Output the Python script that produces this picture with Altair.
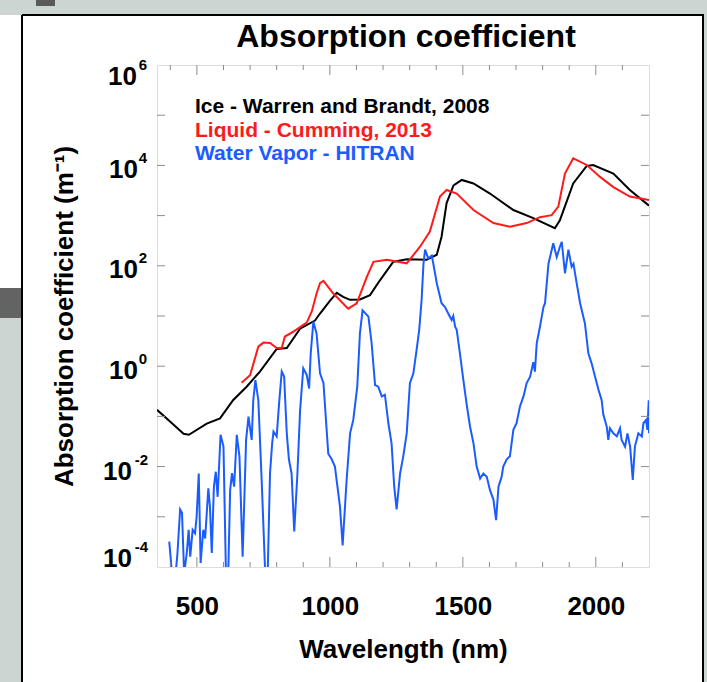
import altair as alt
import pandas as pd

FONT = "Liberation Sans"

# --- absorption coefficients (m^-1) versus wavelength (nm) ---
ice_nm = [350, 400, 450, 470, 537, 587, 636, 687, 737, 800, 838, 888, 944, 963,
          1000, 1026, 1050, 1076, 1113, 1151, 1189, 1238, 1289, 1364, 1402, 1420,
          1439, 1465, 1496, 1540, 1602, 1690, 1765, 1846, 1865, 1915, 1966, 1990,
          2066, 2128, 2200]
ice_abs = [0.135, 0.078, 0.045, 0.043, 0.072, 0.091, 0.21, 0.39, 0.78, 2.2, 2.3,
           5.6, 8.1, 11.2, 20, 29, 24, 21, 21.4, 26, 52, 120, 135, 132, 166, 380,
           1780, 4000, 5130, 4370, 2750, 1290, 890, 560, 810, 4370, 9770, 10200,
           6900, 3240, 1580]

liq_nm = [668, 700, 731, 750, 775, 800, 819, 831, 863, 913, 932, 950, 963, 976,
          1013, 1069, 1101, 1139, 1164, 1214, 1289, 1339, 1376, 1414, 1439, 1477,
          1540, 1615, 1677, 1740, 1790, 1834, 1859, 1884, 1915, 1966, 2016, 2066,
          2128, 2200]
liq_abs = [0.47, 0.66, 2.45, 2.95, 2.9, 2.3, 2.3, 3.9, 4.9, 7.4, 12.3, 28, 45, 50,
           28, 14, 17.8, 60, 120, 132, 112, 240, 480, 2400, 3240, 2750, 1290, 710,
           600, 710, 930, 1020, 1510, 6900, 13800, 10200, 5900, 3700, 2400, 2040]

vap_nm = [396, 401, 408, 418, 427, 437, 444, 452, 462, 469, 475, 484, 493, 499,
          507, 514, 524, 531, 543, 549, 556, 564, 571, 578, 589, 600, 610, 617,
          625, 632, 640, 650, 660, 672, 685, 694, 700, 706, 712, 720, 731, 744,
          756, 765, 775, 783, 788, 800, 810, 819, 828, 838, 846, 856, 866, 878,
          888, 900, 913, 922, 928, 938, 950, 963, 976, 994, 1007, 1019, 1038,
          1048, 1063, 1076, 1088, 1103, 1113, 1123, 1145, 1157, 1170, 1182, 1195,
          1207, 1220, 1232, 1242, 1251, 1264, 1276, 1289, 1301, 1314, 1326, 1336,
          1345, 1352, 1358, 1370, 1383, 1389, 1402, 1420, 1433, 1446, 1458, 1464,
          1471, 1477, 1489, 1502, 1514, 1527, 1540, 1552, 1565, 1577, 1590, 1602,
          1615, 1625, 1634, 1646, 1652, 1665, 1677, 1690, 1702, 1715, 1728, 1740,
          1753, 1765, 1771, 1778, 1790, 1803, 1809, 1822, 1840, 1853, 1865, 1872,
          1884, 1897, 1909, 1916, 1928, 1941, 1953, 1959, 1972, 1985, 1997, 2010,
          2022, 2028, 2041, 2047, 2053, 2066, 2079, 2091, 2097, 2110, 2119, 2129,
          2139, 2147, 2160, 2173, 2179, 2189, 2194, 2199, 2200]
vap_abs = [3.2e-4, 1.6e-4, 5.5e-5, 5.5e-5, 1.9e-4, 1.4e-3, 1.2e-3, 7.4e-5, 1.9e-4,
           5.5e-4, 1.6e-4, 5.5e-4, 4.7e-4, 1.0e-3, 7.3e-3, 1.2e-4, 5.5e-4, 3.7e-4,
           3.7e-3, 1.6e-3, 1.9e-4, 4.0e-3, 7.9e-3, 2.5e-3, 4.3e-2, 2.5e-2, 4.7e-5,
           4.7e-5, 3.4e-3, 7.4e-3, 4.0e-3, 4.3e-2, 1.6e-2, 1.6e-4, 3.4e-2, 9.9e-2,
           5.8e-2, 3.4e-2, 0.21, 0.53, 0.21, 4.7e-3, 1.0e-4, 4.1e-5, 7.4e-3, 2.9e-2,
           5.0e-2, 4.0e-2, 0.21, 0.78, 0.62, 4.6e-2, 1.4e-2, 7.3e-3, 5.1e-4, 7.3e-3,
           0.13, 0.91, 0.67, 0.36, 1.8, 7.7, 4.5, 0.72, 0.46, 1.8e-2, 1.4e-2, 1.0e-2,
           1.6e-3, 2.7e-4, 5.4e-3, 4.6e-2, 8.5e-2, 0.39, 4.5, 13, 9.7, 2.9, 0.42,
           0.39, 0.25, 0.27, 7.3e-2, 2.9e-2, 4.0e-3, 1.4e-3, 7.3e-3, 1.6e-2, 4.6e-2,
           0.46, 0.72, 2.1, 5.3, 21, 110, 210, 140, 160, 110, 45, 18, 15, 11, 8.3,
           10, 6.1, 5.3, 1.8, 0.53, 0.18, 6.3e-2, 2.9e-2, 1.0e-2, 5.8e-3, 7.3e-3,
           6.3e-3, 3.4e-3, 2.2e-3, 8.6e-4, 4.0e-3, 6.3e-3, 1.0e-2, 1.4e-2, 1.6e-2,
           5.4e-2, 7.3e-2, 0.16, 0.25, 0.46, 0.62, 1.2, 0.78, 2.9, 6.1, 15, 18, 110,
           280, 150, 240, 300, 71, 210, 96, 110, 45, 18, 9.7, 7.1, 1.8, 1.1, 0.62,
           0.34, 0.21, 0.11, 6.3e-2, 3.4e-2, 5.8e-2, 4.6e-2, 4.0e-2, 5.8e-2, 3.4e-2,
           2.5e-2, 4.6e-2, 2.5e-2, 5.4e-3, 2.5e-2, 4.6e-2, 4.0e-2, 7.3e-2, 8.5e-2,
           5.4e-2, 0.21, 4.6e-2]

series_names = ["Ice - Warren and Brandt, 2008",
                "Liquid - Cumming, 2013",
                "Water Vapor - HITRAN"]
series_colors = ["#000000", "#ff1a1a", "#1a5cff"]
chart_title = "Absorption coefficient"

# axis ticks
x_label_values = [500, 1000, 1500, 2000]
x_minor = [v for v in range(400, 2200, 100) if v % 500 != 0]
y_decades = [10.0 ** e for e in range(-3, 6)]

W, H = 492, 502
FRAME = "#8c8c8c"

xscale = alt.Scale(domain=[350, 2200], nice=False, zero=False)
yscale = alt.Scale(type="log", domain=[1e-4, 1e6], nice=False)

x_enc = alt.X("nm:Q", scale=xscale,
              axis=alt.Axis(values=x_label_values, format="d", title="Wavelength (nm)",
                            labelFont=FONT, labelFontSize=26, labelFontWeight="bold",
                            labelColor="black", labelPadding=26, ticks=False,
                            tickSize=0, domain=False, grid=False,
                            titleFont=FONT, titleFontSize=26, titleFontWeight="bold",
                            titleColor="black", titlePadding=17))
y_enc = alt.Y("abs:Q", scale=yscale,
              axis=alt.Axis(labels=False, ticks=False, tickSize=0, domain=False,
                            grid=False, title="Absorption coefficient (m\u207b\u00b9)",
                            titleFont=FONT, titleFontSize=26, titleFontWeight="bold",
                            titleColor="black", titlePadding=80))


def curve(nm, vals, color, width=2.0):
    df = pd.DataFrame({"nm": nm, "abs": vals})
    return alt.Chart(df).mark_line(color=color, strokeWidth=width, clip=True).encode(
        x=x_enc, y=y_enc)


one = pd.DataFrame({"k": [0]})


def box(x1, x2, y1, y2, fill):
    return alt.Chart(one).mark_rect(color=fill, clip=False).encode(
        x=alt.value(x1), x2=alt.value(x2), y=alt.value(y1), y2=alt.value(y2))


def line(x1, x2, y1, y2, color="black", width=2):
    return alt.Chart(one).mark_rule(color=color, strokeWidth=width, clip=False).encode(
        x=alt.value(x1), x2=alt.value(x2), y=alt.value(y1), y2=alt.value(y2))


# surrounding slide panel
GRAY = "#cdd5d2"
decor = [
    box(-157, 550, -65, -50, GRAY),
    box(-121, -102, -65, -59, "#5a5a5a"),
    box(-157, -135, 253, 617, GRAY),
    box(-157, -135, 223, 253, "#636363"),
    box(547, 550, -65, 617, GRAY),
    line(-135, 547, -50, -50),
    line(-135, -135, -50, 617),
    line(546, 546, -50, 617),
]


# inward tick marks on all four sides
def xticks(vals, length):
    df = pd.DataFrame({"nm": vals})
    base = alt.Chart(df).mark_rule(color=FRAME, strokeWidth=1)
    return [
        base.encode(x=alt.X("nm:Q", scale=xscale), y=alt.value(H), y2=alt.value(H - length)),
        base.encode(x=alt.X("nm:Q", scale=xscale), y=alt.value(0), y2=alt.value(length)),
    ]


def yticks(vals, length):
    df = pd.DataFrame({"abs": vals})
    base = alt.Chart(df).mark_rule(color=FRAME, strokeWidth=1)
    return [
        base.encode(y=alt.Y("abs:Q", scale=yscale), x=alt.value(0), x2=alt.value(length)),
        base.encode(y=alt.Y("abs:Q", scale=yscale), x=alt.value(W), x2=alt.value(W - length)),
    ]


ticks = xticks(x_label_values, 10) + xticks(x_minor, 5) + yticks(y_decades, 8)


# power-of-ten labels on the y axis: "10" with a raised exponent
def ylabels(exps, x_base, x_sup, dy):
    df = pd.DataFrame({"abs": [10.0 ** e for e in exps], "e": [str(e) for e in exps]})
    base = alt.Chart(df).mark_text(align="right", baseline="alphabetic", dy=dy,
                                   font=FONT, fontSize=26, fontWeight="bold",
                                   color="black").encode(
        x=alt.value(x_base), y=alt.Y("abs:Q", scale=yscale), text=alt.value("10"))
    sup = alt.Chart(df).mark_text(align="right", baseline="alphabetic", dy=dy - 15,
                                  font=FONT, fontSize=15, fontWeight="bold",
                                  color="black").encode(
        x=alt.value(x_sup), y=alt.Y("abs:Q", scale=yscale), text="e:N")
    return [base, sup]


ylab = (ylabels([6], -20, -10, 20) + ylabels([4, 2, 0], -19, -10, 12.5)
        + ylabels([-2], -25, -9, 13) + ylabels([-4], -25, -9, 0))

# legend text in the upper left of the plot
legend = []
for i, (name, col) in enumerate(zip(series_names, series_colors)):
    legend.append(alt.Chart(one).mark_text(
        align="left", baseline="alphabetic", font=FONT, fontSize=21,
        fontWeight="bold", color=col, text=name).encode(
        x=alt.value(38), y=alt.value(48 + 23.5 * i)))

# chart heading, centred over the plot
heading = alt.Chart(one).mark_text(
    align="center", baseline="alphabetic", font=FONT, fontSize=32,
    fontWeight="bold", color="black", text=chart_title).encode(
    x=alt.value(W / 2 + 3), y=alt.value(-18))

lines = [curve(ice_nm, ice_abs, series_colors[0]),
         curve(liq_nm, liq_abs, series_colors[1]),
         curve(vap_nm, vap_abs, series_colors[2])]

chart = alt.layer(*decor, *lines, *ticks, *ylab, *legend, heading).properties(
    width=W, height=H,
    padding={"left": 157, "top": 65, "right": 58, "bottom": 115},
    autosize=alt.AutoSizeParams(type="none"),
).configure_view(stroke=FRAME, strokeWidth=1.5).configure(background="white")

chart.save("out.html", embed_options={"renderer": "svg", "actions": False})
